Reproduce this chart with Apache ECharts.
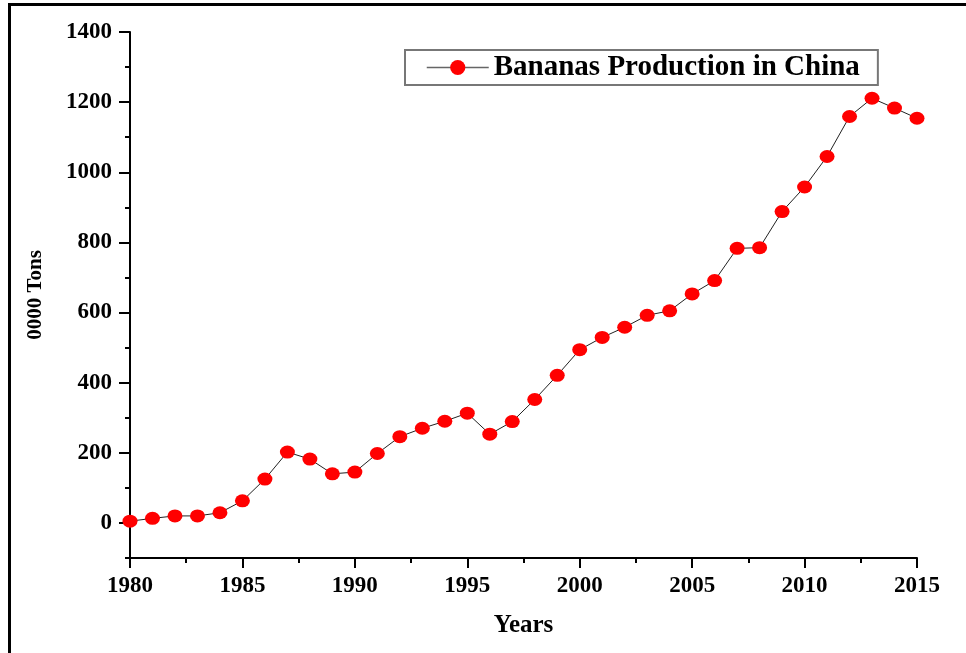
<!DOCTYPE html>
<html>
<head>
<meta charset="utf-8">
<script src="https://cdn.jsdelivr.net/npm/echarts@6/dist/echarts.min.js"></script>
<style>
  html, body { margin: 0; padding: 0; background: #fff; }
  #chart { width: 966px; height: 653px; }
</style>
</head>
<body>
<div id="chart"></div>
<script>
// Annual banana output in China, in units of 10,000 tons
const years = [1980, 1981, 1982, 1983, 1984, 1985, 1986, 1987, 1988, 1989,
               1990, 1991, 1992, 1993, 1994, 1995, 1996, 1997, 1998, 1999,
               2000, 2001, 2002, 2003, 2004, 2005, 2006, 2007, 2008, 2009,
               2010, 2011, 2012, 2013, 2014, 2015];
const production = [5, 13, 20, 20, 29, 63, 125, 202, 182, 140,
                    145, 198, 246, 270, 290, 313, 253, 289, 352, 421,
                    494, 529, 558, 592, 605, 653, 691, 783, 785, 888,
                    958, 1045, 1159, 1211, 1183, 1154];
const seriesName = 'Bananas Production in China';
const yMajorTicks = [0, 200, 400, 600, 800, 1000, 1200, 1400];
const yMinorTicks = [-100, 100, 300, 500, 700, 900, 1100, 1300];

const font = 'Liberation Serif, Times New Roman, serif';
const chart = echarts.init(document.getElementById('chart'), null, { renderer: 'canvas' });

chart.setOption({
  backgroundColor: '#fff',
  animation: false,
  graphic: [{
    type: 'rect',
    shape: { x: 9.5, y: 4.5, width: 1000, height: 700 },
    style: { fill: 'none', stroke: '#000', lineWidth: 3 },
    silent: true
  }],
  grid: { left: 130, top: 32, right: 49, bottom: 95 },
  legend: {
    left: 405, top: 50,
    padding: [3, 18, 3, 21],
    borderColor: '#777', borderWidth: 2,
    itemWidth: 62, itemHeight: 19, itemGap: 8,
    lineStyle: { color: '#666', width: 1.5 },
    textStyle: { fontFamily: font, fontWeight: 'bold', fontSize: 29, color: '#000' },
    data: [seriesName]
  },
  xAxis: {
    type: 'value',
    min: 1980, max: 2015, interval: 5,
    name: 'Years', nameLocation: 'middle', nameGap: 55,
    nameTextStyle: { fontFamily: font, fontWeight: 'bold', fontSize: 25, color: '#000' },
    axisLine: { onZero: false, lineStyle: { color: '#000', width: 2 } },
    axisTick: { inside: false, length: 10, lineStyle: { color: '#000', width: 2 } },
    minorTick: { show: true, splitNumber: 2, length: 5, lineStyle: { color: '#000', width: 2 } },
    axisLabel: { fontFamily: font, fontWeight: 'bold', fontSize: 23, color: '#000', margin: 17,
                 formatter: v => String(v) },
    splitLine: { show: false }
  },
  yAxis: [{
    type: 'value',
    min: -100, max: 1400,
    name: '0000 Tons', nameLocation: 'middle', nameGap: 84, nameRotate: 90,
    nameTextStyle: { fontFamily: font, fontWeight: 'bold', fontSize: 21, color: '#000' },
    axisLine: { onZero: false, lineStyle: { color: '#000', width: 2 } },
    axisTick: { length: 11, customValues: yMajorTicks, lineStyle: { color: '#000', width: 2 } },
    axisLabel: { customValues: yMajorTicks, fontFamily: font, fontWeight: 'bold', fontSize: 23,
                 color: '#000', margin: 18, formatter: v => String(v) },
    splitLine: { show: false }
  }, {
    type: 'value',
    position: 'left',
    min: -100, max: 1400,
    axisLine: { show: false },
    axisTick: { show: true, length: 5, customValues: yMinorTicks, lineStyle: { color: '#000', width: 2 } },
    axisLabel: { show: false },
    splitLine: { show: false }
  }],
  series: [{
    name: seriesName,
    type: 'line',
    data: years.map((y, i) => [y, production[i]]),
    symbol: 'circle',
    symbolSize: [15, 13],
    itemStyle: { color: '#ff0000' },
    lineStyle: { color: '#222', width: 1 },
    clip: true
  }]
});
</script>
</body>
</html>
